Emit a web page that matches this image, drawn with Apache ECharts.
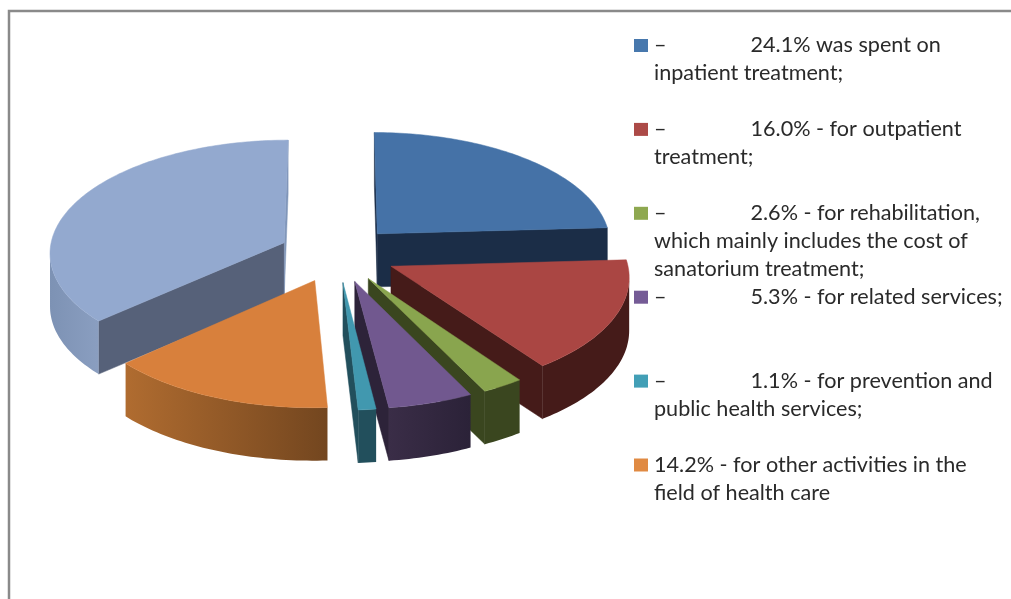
<!DOCTYPE html>
<html>
<head>
<meta charset="utf-8">
<style>
html, body { margin: 0; padding: 0; background: #fff; }
#main { width: 1011px; height: 599px; }
</style>
<script src="https://cdn.jsdelivr.net/npm/echarts@6/dist/echarts.min.js"></script>
</head>
<body>
<div id="main"></div>
<script>
// data
var sliceNames = [
    '–\t24.1% was spent on\ninpatient treatment;',
    '–\t16.0% - for outpatient\ntreatment;',
    '–\t2.6% - for rehabilitation,\nwhich mainly includes the cost of\nsanatorium treatment;',
    '–\t5.3% - for related services;',
    '–\t1.1% - for prevention and\npublic health services;',
    '14.2% - for other activities in the\nfield of health care',
    'remainder' // no legend entry in the original
];
var sliceValues = [24.1, 16.0, 2.6, 5.3, 1.1, 14.2, 36.7];

// colours per slice
var topColors = ['#4572a7', '#aa4643', '#89a54e', '#71588f', '#4198af', '#d8803c', '#93a9cf'];
var cutColors = ['#1b2d47', '#451b19', '#3a461f', '#2d2339', '#224f5c', '#b06c30', '#566179'];
var endCutColors = ['#1b2d47', '#451b19', '#3a461f', '#2d2339', '#224f5c', '#b06c30', '#8096b9'];
var rimLeft   = ['#1b2d47', '#451b19', '#3a461f', '#3a2d47', '#224f5c', '#b06c30', '#7d92b4'];
var rimRight  = ['#1b2d47', '#451b19', '#3a461f', '#2b2238', '#224f5c', '#73461f', '#8a9ec0'];
var markerColors = ['#4778ad', '#ac4a47', '#8ea850', '#755b96', '#429fb6', '#e08a43'];

// fake 3D projection of the pie
var centerX = 337.5, centerY = 254;
var scaleX = 235, scaleY = 112.5, perspective = 0.08;
var explode = 0.25;
var thickness = 53;
var total = sliceValues.reduce(function(a, b) { return a + b; }, 0);

function project(u, v) {
    var w = 1 - perspective * v;
    return [centerX + scaleX * u / w, centerY + scaleY * v / w];
}

function angleOf(share) {
    return share / total * Math.PI * 2;
}

function drop(p) {
    return [p[0], p[1] + thickness];
}

function renderSlice(params, api) {
    var idx = params.seriesIndex;
    var a0 = angleOf(api.value(1));
    var a1 = angleOf(api.value(1) + api.value(0));
    var mid = (a0 + a1) / 2;

    var offU = explode * Math.sin(mid), offV = -explode * Math.cos(mid);
    var apex = project(offU, offV);

    var arc = [];
    var steps = Math.max(4, Math.ceil((a1 - a0) / 0.02));
    for (var i = 0; i <= steps; i++) {
        var a = a0 + (a1 - a0) * i / steps;
        arc.push(project(offU + Math.sin(a), offV - Math.cos(a)));
    }
    var first = arc[0], last = arc[arc.length - 1];
    var children = [];

    function quad(p, q, fill) {
        children.push({
            type: 'polygon',
            shape: { points: [p, q, drop(q), drop(p)] },
            style: { fill: fill, stroke: fill, lineWidth: 0.5 }
        });
    }

    // cut faces, only where they face the viewer
    if (first[0] < apex[0]) quad(apex, first, cutColors[idx]);
    if (apex[0] < last[0]) quad(last, apex, endCutColors[idx]);

    // outer wall: the part of the rim running right to left
    var upper = [];
    for (var j = 0; j < arc.length; j++) {
        var goesLeft = (j < arc.length - 1 && arc[j + 1][0] < arc[j][0]) ||
            (j > 0 && arc[j][0] < arc[j - 1][0]);
        if (goesLeft) upper.push(arc[j]);
    }
    if (upper.length > 1) {
        var wall = upper.concat(upper.map(drop).reverse());
        children.push({
            type: 'polygon',
            shape: { points: wall },
            style: {
                fill: new echarts.graphic.LinearGradient(0, 0, 1, 0, [
                    { offset: 0, color: rimLeft[idx] },
                    { offset: 1, color: rimRight[idx] }
                ]),
                stroke: null
            }
        });
    }

    // top face
    children.push({
        type: 'polygon',
        shape: { points: [apex].concat(arc) },
        style: { fill: topColors[idx], stroke: topColors[idx], lineWidth: 0.5 }
    });

    return { type: 'group', children: children };
}

var chart = echarts.init(document.getElementById('main'), null, { renderer: 'canvas' });

var series = [];
var running = 0;
sliceValues.forEach(function(value, i) {
    var midShare = running + value / 2;
    series.push({
        type: 'custom',
        name: sliceNames[i],
        coordinateSystem: 'none',
        silent: true,
        z: 10 + Math.round(-Math.cos(angleOf(midShare)) * 10),
        itemStyle: { color: topColors[i] },
        renderItem: renderSlice,
        data: [[value, running]]
    });
    running += value;
});

// legend text styles: square on the first line
var legendRich = {
    dash: { width: 96.5, fontFamily: 'Lato', fontSize: 21.6, lineHeight: 28, color: '#2a2a2a' },
    gap: { width: 6, height: 12, lineHeight: 28 },
    indent: { width: 20, height: 12, lineHeight: 28 },
    txt: { fontFamily: 'Lato', fontSize: 21.6, lineHeight: 28, color: '#2a2a2a' }
};
markerColors.forEach(function(c, i) {
    legendRich['m' + i] = { width: 14, height: 13, lineHeight: 28, backgroundColor: c };
});

function legendText(name) {
    var idx = sliceNames.indexOf(name);
    var lines = name.split('\n');
    return lines.map(function(line, n) {
        if (n > 0) return '{indent|}{txt|' + line + '}';
        var parts = line.split('\t');
        var head = '{m' + idx + '|}{gap|}';
        if (parts.length > 1) return head + '{dash|' + parts[0] + '}{txt|' + parts[1] + '}';
        return head + '{txt|' + parts[0] + '}';
    }).join('\n');
}

// one legend per row, the rows are evenly spaced whatever their line count
var legends = sliceNames.slice(0, 6).map(function(name, i) {
    return {
        orient: 'vertical',
        left: 629,
        top: 34.5 + i * 83.9,
        padding: 0,
        itemWidth: 0,
        itemHeight: 0,
        selectedMode: false,
        data: [name],
        formatter: legendText,
        textStyle: { padding: 0, rich: legendRich }
    };
});

chart.setOption({
    backgroundColor: '#ffffff',
    animation: false,
    legend: legends,
    graphic: [{
        type: 'polyline',
        silent: true,
        shape: { points: [[9, 599], [9, 11], [1011, 11]] },
        style: { fill: null, stroke: '#8a8a8a', lineWidth: 2.5 }
    }],
    series: series
});

window.onresize = function() {
    chart.resize();
};
</script>
</body>
</html>
